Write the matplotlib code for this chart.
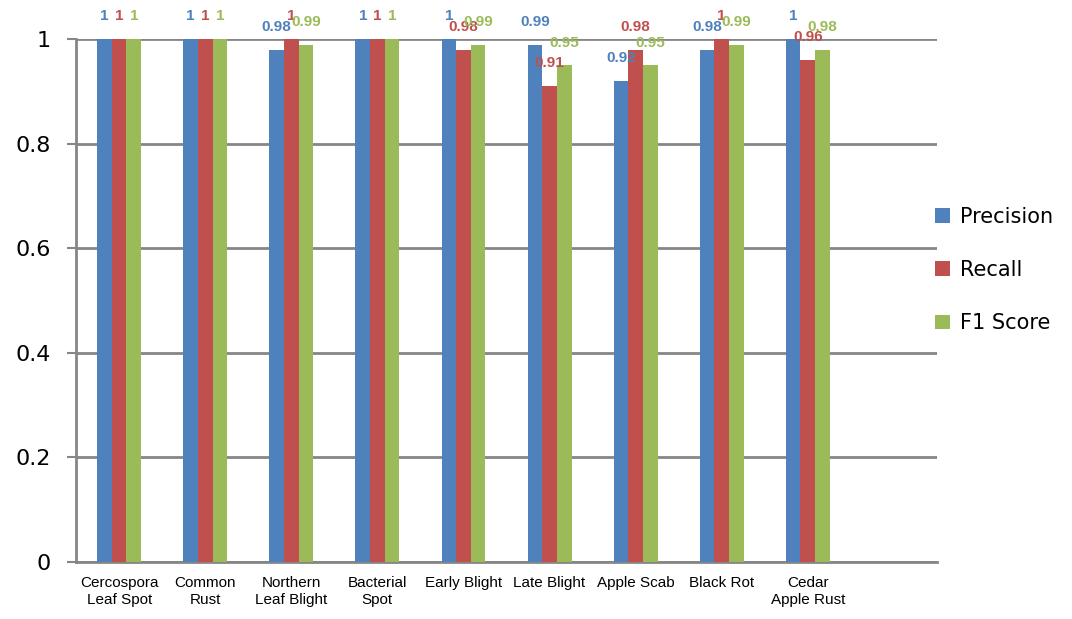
import numpy as np
import matplotlib
matplotlib.use("Agg")
import matplotlib.pyplot as plt

categories = ["Cercospora\nLeaf Spot", "Common\nRust", "Northern\nLeaf Blight", "Bacterial\nSpot",
              "Early Blight", "Late Blight", "Apple Scab", "Black Rot", "Cedar\nApple Rust", ""]
precision = [1, 1, 0.98, 1, 1, 0.99, 0.92, 0.98, 1]
recall = [1, 1, 1, 1, 0.98, 0.91, 0.98, 1, 0.96]
f1_score = [1, 1, 0.99, 1, 0.99, 0.95, 0.95, 0.99, 0.98]

series = [("Precision", precision, "#4F81BD"),
          ("Recall", recall, "#C0504D"),
          ("F1 Score", f1_score, "#9BBB59")]

fig = plt.figure(figsize=(10.72, 6.19), dpi=100)
ax = fig.add_axes([0.071, 0.0926, 0.803, 0.8439])

n = len(precision)
x = np.arange(n)
width = 0.17
grid_color = "#868686"

for i, (name, vals, color) in enumerate(series):
    pos = x + (i - 1) * width
    ax.bar(pos, vals, width, color=color, label=name, zorder=3)
    # Excel-style value labels above each bar (they overlap in the original too)
    for px, v in zip(pos, vals):
        ax.annotate(f"{v:g}", (px, v), xytext=(0, 16.5), textcoords="offset points",
                    ha="center", va="center", color=color, fontsize=11,
                    fontweight="bold", family=["Liberation Sans", "DejaVu Sans"],
                    annotation_clip=False, zorder=4)

ax.set_xlim(-0.5, len(categories) - 0.5)
ax.set_ylim(0, 1)
ax.set_xticks(np.arange(len(categories)))
ax.set_xticklabels(categories, fontsize=11, linespacing=1.3,
                   family=["Liberation Sans Narrow", "Liberation Sans", "DejaVu Sans"])
ax.set_yticks([0, 0.2, 0.4, 0.6, 0.8, 1])
ax.set_yticklabels(["0", "0.2", "0.4", "0.6", "0.8", "1"], fontsize=16)

ax.tick_params(axis="x", length=0, pad=10)
ax.tick_params(axis="y", length=6.5, width=1.5, color=grid_color, pad=12)
ax.yaxis.grid(True, color=grid_color, linewidth=2, zorder=0)
ax.set_axisbelow(True)
for s in ["top", "right"]:
    ax.spines[s].set_visible(False)
for s in ["left", "bottom"]:
    ax.spines[s].set_color(grid_color)
    ax.spines[s].set_linewidth(2)

handles, labels = ax.get_legend_handles_labels()
fig.legend(handles, labels, loc="center left", bbox_to_anchor=(0.855, 0.564),
           frameon=False, fontsize=15, handlelength=0.7, handleheight=0.7,
           handletextpad=0.5, labelspacing=1.6)

fig.savefig("out.png", dpi=100)
